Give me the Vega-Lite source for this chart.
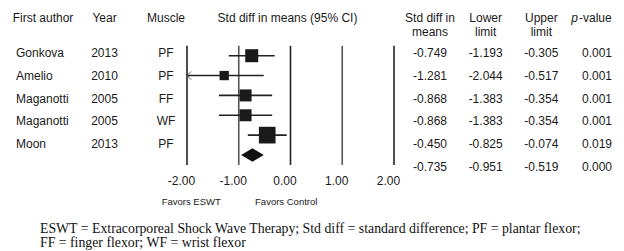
{
  "$schema": "https://vega.github.io/schema/vega-lite/v6.json",
  "padding": 0,
  "spacing": 0,
  "bounds": "flush",
  "config": {
    "view": {"stroke": null},
    "font": "Liberation Sans",
    "text": {"font": "Liberation Sans", "fontSize": 12, "color": "#1a1a1a"},
    "locale": {"number": {"decimal": ".", "thousands": ",", "grouping": [3], "currency": ["$", ""], "minus": "-"}}
  },
  "title": {
    "text": ["ESWT = Extracorporeal Shock Wave Therapy; Std diff = standard difference; PF = plantar flexor;", "FF = finger flexor; WF = wrist flexor"],
    "orient": "bottom",
    "anchor": "start",
    "font": "Liberation Serif",
    "fontSize": 13.8,
    "fontWeight": "normal",
    "color": "#111111",
    "lineHeight": 14,
    "dx": 40,
    "offset": 16
  },
  "datasets": {
    "studies": [
      {"author": "Gonkova", "year": "2013", "muscle": "PF", "smd": -0.749, "lower": -1.193, "upper": -0.305, "p": 0.001, "weight": 20.6, "row": 1, "type": "study"},
      {"author": "Amelio", "year": "2010", "muscle": "PF", "smd": -1.281, "lower": -2.044, "upper": -0.517, "p": 0.001, "weight": 10.5, "row": 2, "type": "study"},
      {"author": "Maganotti", "year": "2005", "muscle": "FF", "smd": -0.868, "lower": -1.383, "upper": -0.354, "p": 0.001, "weight": 17.5, "row": 3, "type": "study"},
      {"author": "Maganotti", "year": "2005", "muscle": "WF", "smd": -0.868, "lower": -1.383, "upper": -0.354, "p": 0.001, "weight": 17.5, "row": 4, "type": "study"},
      {"author": "Moon", "year": "2013", "muscle": "PF", "smd": -0.450, "lower": -0.825, "upper": -0.074, "p": 0.019, "weight": 33.9, "row": 5, "type": "study"},
      {"author": "", "year": "", "muscle": "", "smd": -0.735, "lower": -0.951, "upper": -0.519, "p": 0.000, "weight": 100, "row": 6, "type": "summary"}
    ],
    "headersLeft": [
      {"col": "author", "label": "First author"},
      {"col": "year", "label": "Year"},
      {"col": "muscle", "label": "Muscle"}
    ],
    "headersRight": [
      {"col": "smd", "label": "Std diff in\nmeans"},
      {"col": "lower", "label": "Lower\nlimit"},
      {"col": "upper", "label": "Upper\nlimit"}
    ],
    "pHeader": [{"italic": "p", "rest": "-value"}],
    "gridlines": [{"v": -2}, {"v": -1}, {"v": 0}, {"v": 1}, {"v": 2}],
    "plotTitle": [{"label": "Std diff in means (95% CI)"}]
  },
  "hconcat": [
    {
      "width": 187,
      "height": 168,
      "layer": [
        {
          "data": {"name": "headersLeft"},
          "mark": {"type": "text", "align": "center", "baseline": "top", "dy": -18},
          "encoding": {
            "x": {"field": "col", "type": "nominal", "scale": {"type": "point", "domain": ["author", "year", "muscle"], "padding": 0.52, "align": 0.672}, "axis": null},
            "y": {"datum": 0, "type": "quantitative", "scale": {"domain": [-1.35, 6.057], "reverse": true, "zero": false, "nice": false}, "axis": null},
            "text": {"field": "label"}
          }
        },
        {
          "data": {"name": "studies"},
          "transform": [{"filter": "datum.type == 'study'"}],
          "mark": {"type": "text", "align": "left", "baseline": "middle", "dx": -27},
          "encoding": {
            "x": {"datum": "author", "type": "nominal"},
            "y": {"field": "row", "type": "quantitative"},
            "text": {"field": "author"}
          }
        },
        {
          "data": {"name": "studies"},
          "transform": [{"filter": "datum.type == 'study'"}, {"fold": ["year", "muscle"], "as": ["col", "val"]}],
          "mark": {"type": "text", "align": "center", "baseline": "middle"},
          "encoding": {
            "x": {"field": "col", "type": "nominal"},
            "y": {"field": "row", "type": "quantitative"},
            "text": {"field": "val", "type": "nominal"}
          }
        }
      ]
    },
    {
      "width": 207,
      "height": 168,
      "layer": [
        {
          "data": {"name": "gridlines"},
          "mark": {"type": "rule", "strokeWidth": 1.6},
          "encoding": {
            "x": {
              "field": "v", "type": "quantitative",
              "scale": {"domain": [-2, 2], "clamp": true, "nice": false, "zero": false},
              "axis": {
                "values": [-2, -1, 0, 1, 2], "format": ".2f", "ticks": false, "domain": false, "grid": false,
                "labelFontSize": 12, "labelColor": "#1a1a1a", "labelPadding": 7, "labelOffset": -6, "labelFlush": false,
                "title": "Favors ESWT\u00a0\u00a0\u00a0\u00a0\u00a0\u00a0\u00a0\u00a0\u00a0\u00a0\u00a0\u00a0\u00a0Favors Control",
                "titleFontSize": 9.5, "titleFontWeight": "normal", "titleColor": "#1a1a1a", "titleX": 52, "titlePadding": 10
              }
            },
            "y": {"datum": 0.5, "type": "quantitative", "scale": {"domain": [-1.805, 6.655], "reverse": true, "zero": false, "nice": false}, "axis": null},
            "y2": {"datum": 6.5},
            "color": {"condition": {"test": "datum.v % 2 == 0", "value": "#222222"}, "value": "#555555"}
          }
        },
        {
          "data": {"name": "studies"},
          "transform": [{"filter": "datum.type == 'study'"}],
          "mark": {"type": "rule", "strokeWidth": 1.6, "color": "#222222"},
          "encoding": {
            "x": {"field": "lower", "type": "quantitative"},
            "x2": {"field": "upper"},
            "y": {"field": "row", "type": "quantitative"}
          }
        },
        {
          "data": {"name": "studies"},
          "transform": [{"filter": "datum.lower < -2"}],
          "mark": {"type": "point", "shape": "M0,0L1,-1M0,0L1,1", "filled": false, "stroke": "#555555", "strokeWidth": 1, "size": 64, "opacity": 1},
          "encoding": {
            "x": {"field": "lower", "type": "quantitative"},
            "y": {"field": "row", "type": "quantitative"}
          }
        },
        {
          "data": {"name": "studies"},
          "transform": [{"filter": "datum.type == 'study'"}],
          "mark": {"type": "point", "shape": "square", "filled": true, "color": "#1a1a1a", "opacity": 1},
          "encoding": {
            "x": {"field": "smd", "type": "quantitative"},
            "y": {"field": "row", "type": "quantitative"},
            "size": {"field": "weight", "type": "quantitative", "scale": {"domain": [0, 100], "range": [0, 822]}, "legend": null}
          }
        },
        {
          "data": {"name": "studies"},
          "transform": [{"filter": "datum.type == 'summary'"}],
          "mark": {"type": "point", "shape": "M-1,0L0,-0.6L1,0L0,0.6Z", "filled": true, "color": "#111111", "size": 511, "opacity": 1},
          "encoding": {
            "x": {"field": "smd", "type": "quantitative"},
            "y": {"field": "row", "type": "quantitative"}
          }
        },
        {
          "data": {"name": "plotTitle"},
          "mark": {"type": "text", "align": "center", "baseline": "top", "dy": -23, "dx": -3},
          "encoding": {
            "x": {"datum": 0, "type": "quantitative"},
            "y": {"datum": 0, "type": "quantitative"},
            "text": {"field": "label"}
          }
        }
      ]
    },
    {
      "width": 230,
      "height": 168,
      "layer": [
        {
          "data": {"name": "headersRight"},
          "mark": {"type": "text", "align": "center", "baseline": "top", "dy": -18, "lineBreak": "\n", "lineHeight": 14},
          "encoding": {
            "x": {"field": "col", "type": "nominal", "scale": {"type": "point", "domain": ["smd", "lower", "upper", "p"], "padding": 0.566, "align": 0.571}, "axis": null},
            "y": {"datum": 0, "type": "quantitative", "scale": {"domain": [-1.35, 6.057], "reverse": true, "zero": false, "nice": false}, "axis": null},
            "text": {"field": "label"}
          }
        },
        {
          "data": {"name": "pHeader"},
          "mark": {"type": "text", "align": "right", "baseline": "top", "dy": -18, "dx": -19, "fontStyle": "italic"},
          "encoding": {
            "x": {"datum": "p", "type": "nominal"},
            "y": {"datum": 0, "type": "quantitative"},
            "text": {"field": "italic"}
          }
        },
        {
          "data": {"name": "pHeader"},
          "mark": {"type": "text", "align": "left", "baseline": "top", "dy": -18, "dx": -18},
          "encoding": {
            "x": {"datum": "p", "type": "nominal"},
            "y": {"datum": 0, "type": "quantitative"},
            "text": {"field": "rest"}
          }
        },
        {
          "data": {"name": "studies"},
          "transform": [{"fold": ["smd", "lower", "upper", "p"], "as": ["col", "val"]}],
          "mark": {"type": "text", "align": "center", "baseline": "middle"},
          "encoding": {
            "x": {"field": "col", "type": "nominal"},
            "y": {"field": "row", "type": "quantitative"},
            "text": {"field": "val", "type": "quantitative", "format": ".3f"}
          }
        }
      ]
    }
  ]
}
